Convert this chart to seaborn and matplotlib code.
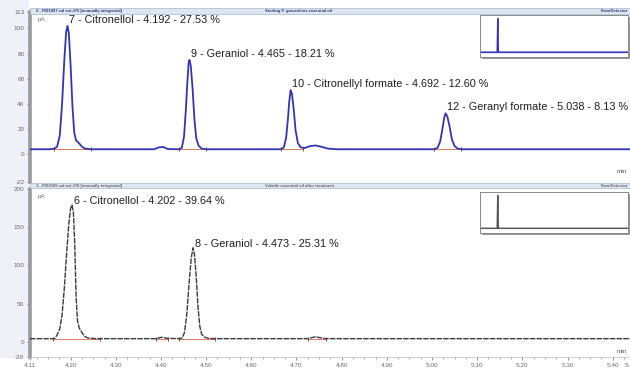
import numpy as np
import pandas as pd
import matplotlib
matplotlib.use("Agg")
import matplotlib.pyplot as plt
import seaborn as sns
from matplotlib.patches import Rectangle

# ---------------- data ----------------
top_time = [4.110, 4.150, 4.163, 4.170, 4.176, 4.181, 4.186, 4.190, 4.193, 4.196,
            4.200, 4.204, 4.208, 4.212, 4.218, 4.225, 4.232, 4.245, 4.300, 4.385,
            4.395, 4.405, 4.415, 4.440, 4.446, 4.451, 4.455, 4.458, 4.461, 4.463,
            4.466, 4.470, 4.474, 4.478, 4.483, 4.490, 4.500, 4.665, 4.672, 4.677,
            4.681, 4.684, 4.687, 4.690, 4.694, 4.698, 4.703, 4.709, 4.718, 4.730,
            4.742, 4.755, 4.770, 4.790, 5.005, 5.012, 5.018, 5.023, 5.027, 5.030,
            5.034, 5.039, 5.044, 5.050, 5.057, 5.065, 5.445]
top_signal = [4.0, 4.0, 4.3, 6, 15, 40, 75, 97, 102, 96,
              70, 38, 17, 11, 9, 6, 4.5, 4.0, 4.0, 4.0,
              5.5, 5.8, 4.2, 4.0, 5, 14, 35, 55, 72, 75,
              70, 52, 28, 13, 7, 4.5, 4.0, 4.0, 5.5, 13,
              28, 42, 51, 48, 35, 19, 9, 5.5, 5, 6.5,
              7, 6, 4.5, 4.0, 4.0, 5, 10, 20, 29, 32.5,
              30, 22, 12, 6.5, 4.5, 4.0, 4.0]

bottom_time = [4.110, 4.160, 4.165, 4.170, 4.176, 4.181, 4.186, 4.191, 4.196, 4.200,
               4.203, 4.206, 4.209, 4.212, 4.215, 4.219, 4.225, 4.231, 4.238, 4.250,
               4.265, 4.390, 4.398, 4.405, 4.412, 4.440, 4.447, 4.452, 4.457, 4.462,
               4.467, 4.471, 4.474, 4.478, 4.482, 4.486, 4.490, 4.496, 4.505, 4.520,
               4.725, 4.735, 4.742, 4.750, 4.765, 5.445]
bottom_signal = [4, 4, 4.5, 9, 17, 35, 70, 115, 155, 175,
                 179, 170, 130, 60, 28, 18, 12, 7, 5, 4.3,
                 4, 4, 5.5, 5.8, 4.5, 4, 5, 12, 35, 75,
                 110, 123, 115, 85, 45, 20, 10, 6, 4.5, 4,
                 4, 5.5, 6.5, 5.5, 4, 4]

top_peak_numbers = [7, 9, 10, 12]
top_peak_names = ["Citronellol", "Geraniol", "Citronellyl formate", "Geranyl formate"]
top_peak_rt = [4.192, 4.465, 4.692, 5.038]
top_peak_pct = ["27.53", "18.21", "12.60", "8.13"]

bottom_peak_numbers = [6, 8]
bottom_peak_names = ["Citronellol", "Geraniol"]
bottom_peak_rt = [4.202, 4.473]
bottom_peak_pct = ["39.64", "25.31"]

baseline_level = 4.0
top_integration_start = [4.163, 4.440, 4.665, 5.005]
top_integration_end = [4.245, 4.500, 4.715, 5.065]
bottom_integration_start = [4.160, 4.390, 4.440, 4.725]
bottom_integration_end = [4.265, 4.415, 4.520, 4.765]

x_ticks = [4.11, 4.20, 4.30, 4.40, 4.50, 4.60, 4.70, 4.80, 4.90, 5.00, 5.10, 5.20, 5.30, 5.40, 5.44]
x_tick_labels = ["4.11", "4.20", "4.30", "4.40", "4.50", "4.60", "4.70", "4.80", "4.90",
                 "5.00", "5.10", "5.20", "5.30", "5.40", "5.44"]
top_y_ticks = [-22, 0, 20, 40, 60, 80, 100, 113]
bottom_y_ticks = [-20, 0, 50, 100, 150, 200]

inset_time = [0, 11.6, 12.0, 12.4, 100]
top_inset_signal = [2, 2, 100, 2, 2]
bottom_inset_signal = [2, 2, 100, 2, 2]

top_header = ["2 - FID1087 cal ext #75 [manually integrated]",
              "Sterling P. graveolens essential oil", "FrontDetector"]
bottom_header = ["1 - FID2105 cal ext #76 [manually integrated]",
                 "Volatile essential oil after treatment", "FrontDetector"]

# ---------------- figure ----------------
sns.set_theme(style="white")
plt.rcParams['font.family'] = ['Liberation Sans', 'DejaVu Sans']

W, H = 630, 369
fig = plt.figure(figsize=(W / 100, H / 100), dpi=100)
fig.patch.set_facecolor("white")


def fx(px):
    return px / W


def fy(py):
    return 1 - py / H


# left margin tint (behind everything)
fig.patches.append(Rectangle((0, fy(358)), fx(29), fy(0) - fy(358), transform=fig.transFigure,
                             facecolor="#eef1f7", edgecolor="none", zorder=-5))

ax_left, ax_right = fx(30), fx(633)
ax_top = fig.add_axes([ax_left, fy(182), ax_right - ax_left, fy(12) - fy(182)])
ax_bot = fig.add_axes([ax_left, fy(357), ax_right - ax_left, fy(189) - fy(357)])

TOP_COLOR = "#3434b8"
BOT_COLOR = "#3a3a3a"
BASE_COLOR = "#e27a66"
TICK_COLOR = "#6a6a6a"


def style_axis(ax, yticks, ylim):
    ax.set_xlim(4.11, 5.445)
    ax.set_ylim(*ylim)
    ax.set_yticks(yticks)
    ax.set_yticklabels([str(t) for t in yticks])
    for s in ["top", "right"]:
        ax.spines[s].set_visible(False)
    ax.spines["left"].set_color("#9a9a9a")
    ax.spines["left"].set_linewidth(2.6)
    ax.tick_params(axis="y", which="major", direction="out", length=2.5, width=0.6,
                   color="#777777", labelsize=4.6, labelcolor=TICK_COLOR, pad=1.5, left=True)
    ax.set_xlabel("")
    ax.set_ylabel("")
    ax.set_facecolor("white")


def draw_trace(ax, t, s, color, ls, lw, starts, ends, numbers, names, rts, pcts, dy):
    df = pd.DataFrame({"time": t, "signal": s})
    sns.lineplot(data=df, x="time", y="signal", ax=ax, color=color, lw=lw,
                 linestyle=ls, estimator=None, sort=False, zorder=3)
    for a, b in zip(starts, ends):
        ax.plot([a, b], [baseline_level, baseline_level], color=BASE_COLOR, lw=0.7, zorder=2)
        ax.plot([a, b], [baseline_level, baseline_level], ls="none", marker="|",
                ms=3, mew=0.6, color="#444444", zorder=4)
    tt = np.array(t)
    ss = np.array(s)
    for n, name, rt, pct in zip(numbers, names, rts, pcts):
        m = (tt > rt - 0.02) & (tt < rt + 0.02)
        i = np.argmax(np.where(m, ss, -1e9))
        ax.annotate(f"{n} - {name} - {rt:.3f} - {pct} %", xy=(tt[i], ss[i]),
                    xytext=(1.2, dy), textcoords="offset points", ha="left", va="bottom",
                    fontsize=7.8, color="#1e1e1e", annotation_clip=False, zorder=5)


draw_trace(ax_top, top_time, top_signal, TOP_COLOR, "-", 1.3, top_integration_start,
           top_integration_end, top_peak_numbers, top_peak_names, top_peak_rt, top_peak_pct, 0.8)
draw_trace(ax_bot, bottom_time, bottom_signal, BOT_COLOR, (0, (4, 0.8)), 1.0,
           bottom_integration_start, bottom_integration_end, bottom_peak_numbers,
           bottom_peak_names, bottom_peak_rt, bottom_peak_pct, -1.0)

style_axis(ax_top, top_y_ticks, (-22, 113))
style_axis(ax_bot, bottom_y_ticks, (-20, 200))

ax_top.spines["bottom"].set_visible(False)
ax_top.set_xticks(x_ticks)
ax_top.tick_params(axis="x", bottom=False, labelbottom=False)

ax_bot.spines["bottom"].set_color("#c8c8c8")
ax_bot.spines["bottom"].set_linewidth(0.6)
ax_bot.set_xticks(x_ticks)
ax_bot.set_xticklabels(x_tick_labels)
ax_bot.set_xticks(np.arange(4.125, 5.44, 0.025), minor=True)
ax_bot.tick_params(axis="x", which="major", direction="out", length=2.5, width=0.6,
                   color="#777777", labelsize=4.6, labelcolor=TICK_COLOR, pad=1.5, bottom=True)
ax_bot.tick_params(axis="x", which="minor", direction="out", length=1.5, width=0.5,
                   color="#888888", bottom=True)
for a in (ax_top, ax_bot):
    a.tick_params(axis="y", which="minor", direction="out", length=1.2, width=0.4,
                  color="#888888", left=True)
ax_top.set_yticks([-10, 10, 30, 50, 70, 90], minor=True)
ax_bot.set_yticks([25, 75, 125, 175], minor=True)

# unit labels
ax_top.text(0.012, 0.955, "pA", transform=ax_top.transAxes, fontsize=4.6, color="#777777",
            ha="left", va="center")
ax_bot.text(0.012, 0.955, "pA", transform=ax_bot.transAxes, fontsize=4.6, color="#777777",
            ha="left", va="center")
ax_top.text(0.982, 0.06, "min", transform=ax_top.transAxes, fontsize=4.6, color="#555555",
            ha="center", va="center")
ax_bot.text(0.982, 0.03, "min", transform=ax_bot.transAxes, fontsize=4.6, color="#555555",
            ha="center", va="center")

# header strips
for (y0, y1), texts, tc in (((8, 13.5), top_header, "#2c3a78"), ((183, 188.5), bottom_header, "#666666")):
    fig.patches.append(Rectangle((fx(30), fy(y1)), fx(630) - fx(30), fy(y0) - fy(y1),
                                 transform=fig.transFigure, facecolor="#dde5f1",
                                 edgecolor="#9aa6bd", lw=0.4, zorder=10))
    ym = fy((y0 + y1) / 2)
    fig.text(fx(36), ym, texts[0], fontsize=3.0, color=tc, ha="left", va="center", zorder=11,
             fontweight="bold")
    fig.text(fx(265), ym, texts[1], fontsize=3.0, color=tc, ha="left", va="center", zorder=11,
             fontweight="bold")
    fig.text(fx(628), ym, texts[2], fontsize=3.0, color=tc, ha="right", va="center", zorder=11,
             fontweight="bold")

# overview insets
for (y0, y1), sig, col, basecol in (((15, 57), top_inset_signal, TOP_COLOR, "#7070d0"),
                                      ((192, 233), bottom_inset_signal, "#555555", "#c4c8dc")):
    shadow = Rectangle((fx(482), fy(y1 + 2)), fx(148), fy(y0) - fy(y1), transform=fig.transFigure,
                       facecolor="#9a9a9a", edgecolor="none", zorder=8)
    fig.patches.append(shadow)
    axi = fig.add_axes([fx(480), fy(y1), fx(148), fy(y0) - fy(y1)], zorder=9)
    axi.set_facecolor("white")
    dfi = pd.DataFrame({"t": inset_time, "s": sig})
    sns.lineplot(data=dfi, x="t", y="s", ax=axi, color=col, lw=1.0, estimator=None, sort=False)
    axi.axhline(2, color=basecol, lw=1.0, zorder=1)
    axi.set_xlim(0, 100)
    axi.set_ylim(-12, 110)
    axi.set_xticks([])
    axi.set_yticks([])
    axi.set_xlabel("")
    axi.set_ylabel("")
    for s in axi.spines.values():
        s.set_color("#8a8a8a")
        s.set_linewidth(0.7)

fig.savefig("out.png", dpi=100, facecolor=fig.get_facecolor())
